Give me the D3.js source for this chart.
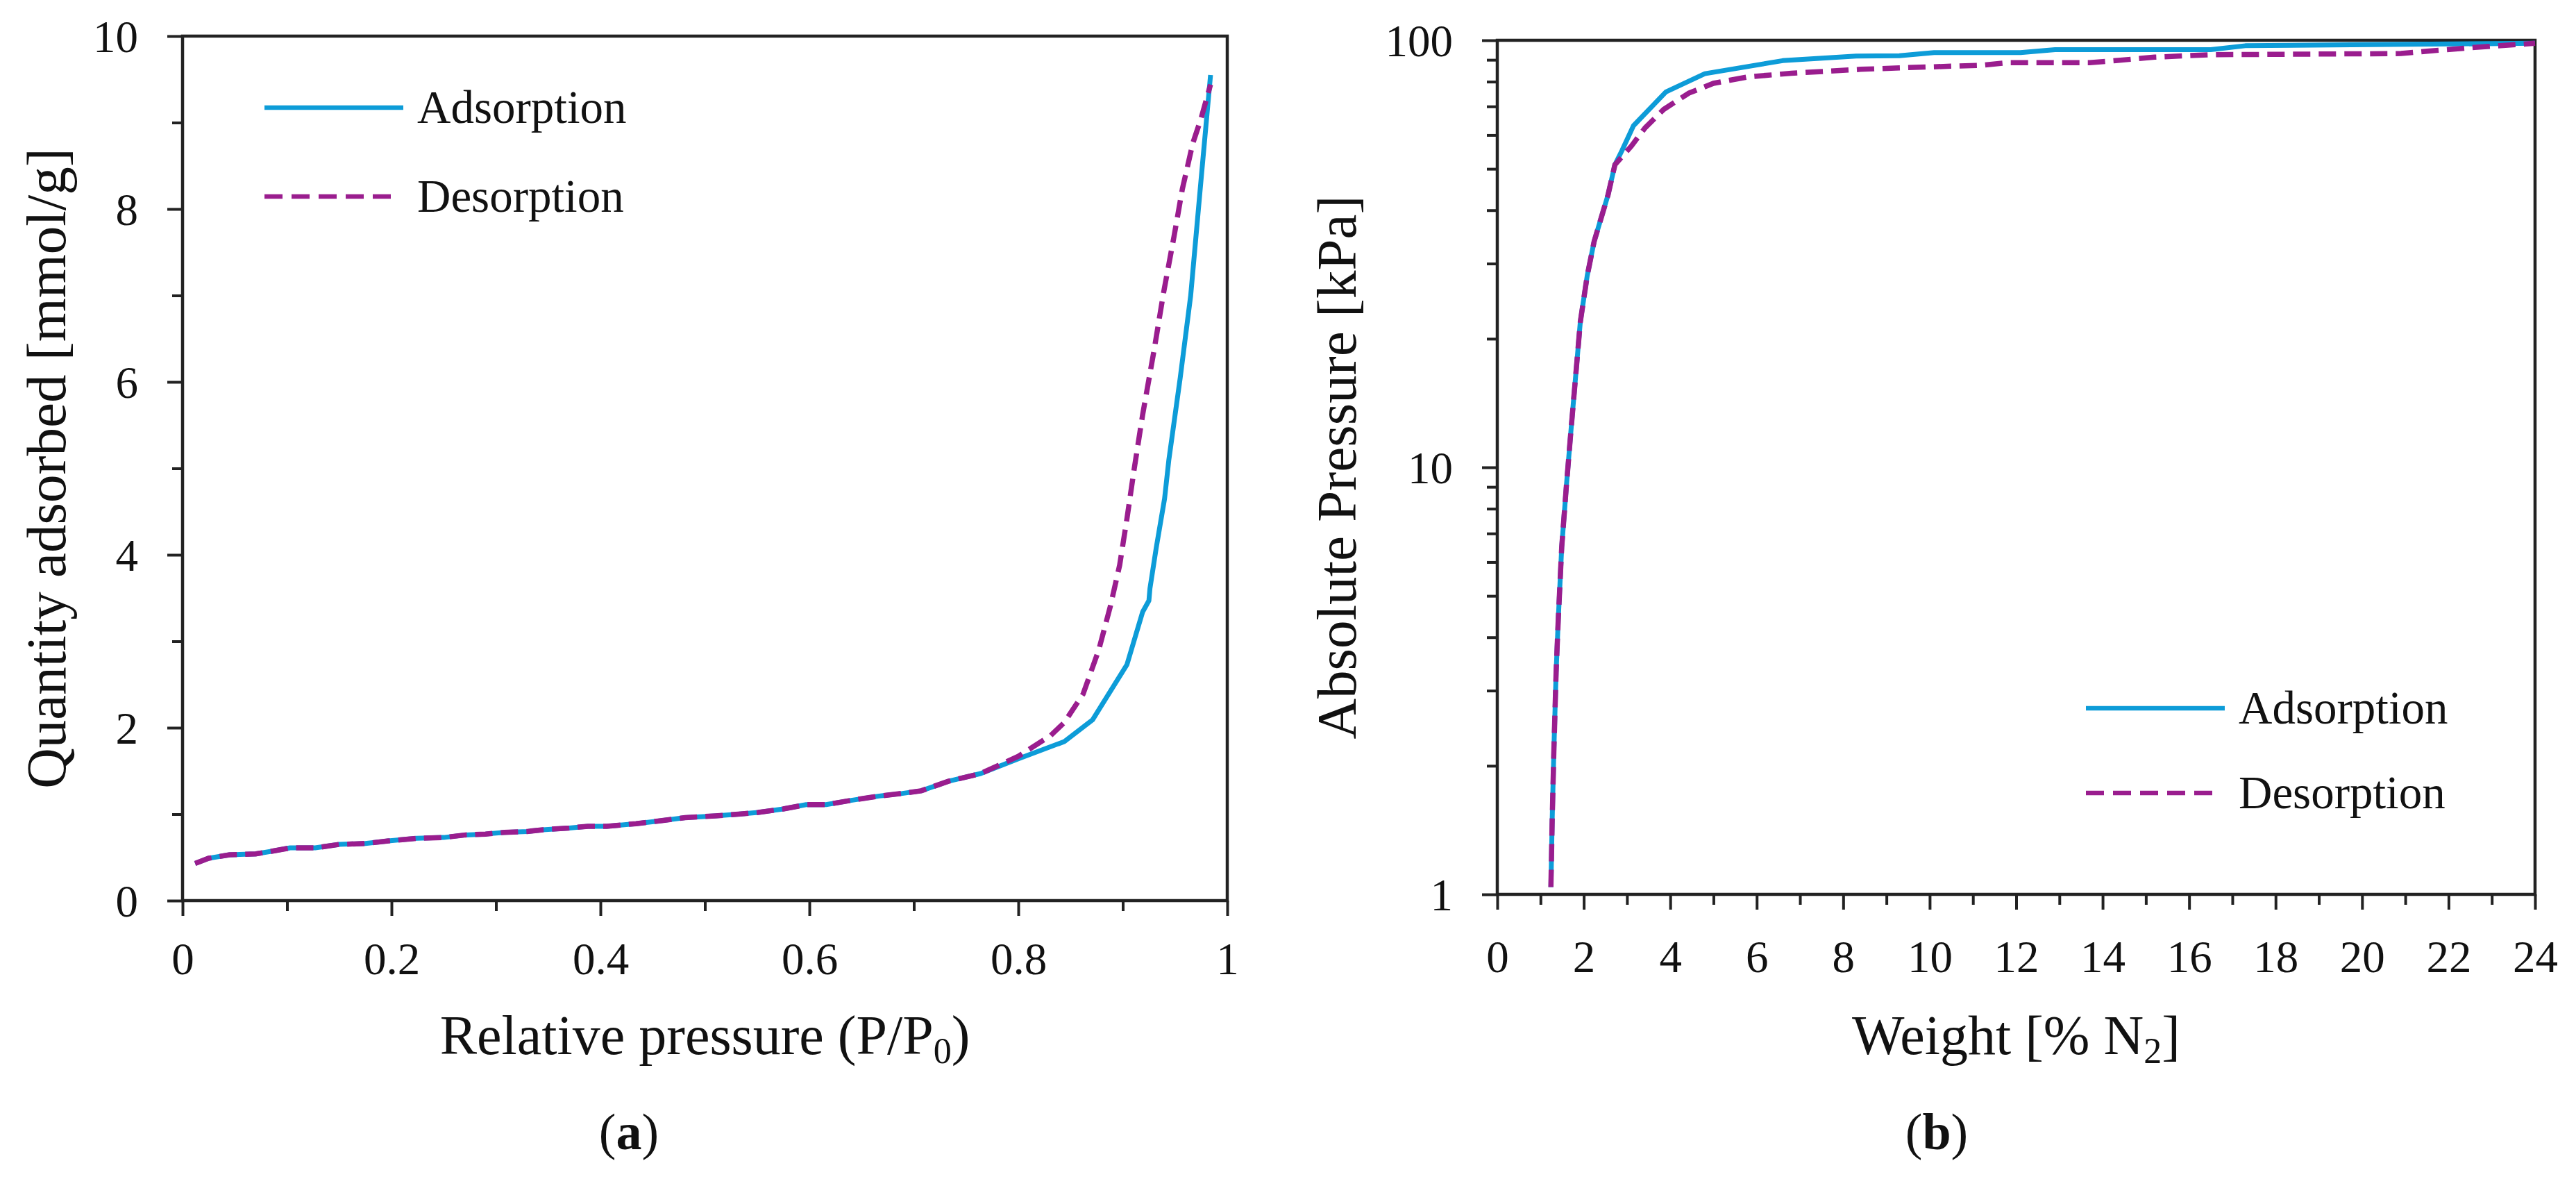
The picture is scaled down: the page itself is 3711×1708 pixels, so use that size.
<!DOCTYPE html>
<html>
<head>
<meta charset="utf-8">
<title>Adsorption / desorption isotherms</title>
<script src="https://d3js.org/d3.v7.min.js"></script>
<style>
    body { margin: 0; background: #fff; }
    svg text { font-family: "Liberation Serif", "DejaVu Serif", serif; fill: #111; }
    .tick line { stroke: #222; stroke-width: 4; }
</style>
</head>
<body>
<svg id="chart" width="3711" height="1708"></svg>
<script>
// ---- panel (a): N2 isotherm, relative pressure vs quantity adsorbed ----
var aAdsX = [0.012, 0.025, 0.045, 0.070, 0.085, 0.103, 0.127, 0.150, 0.175, 0.197, 0.224, 0.250, 0.271, 0.290,
             0.308, 0.330, 0.345, 0.370, 0.388, 0.406, 0.434, 0.455, 0.481, 0.510, 0.532, 0.551, 0.575, 0.597,
             0.616, 0.640, 0.667, 0.689, 0.707, 0.733, 0.764, 0.800, 0.844, 0.871, 0.904, 0.919, 0.925, 0.926,
             0.932, 0.940, 0.944, 0.955, 0.965, 0.975, 0.984];
var aAdsY = [0.43, 0.49, 0.53, 0.54, 0.57, 0.61, 0.61, 0.65, 0.66, 0.69, 0.72, 0.73, 0.76, 0.77,
             0.79, 0.80, 0.82, 0.84, 0.86, 0.86, 0.89, 0.92, 0.96, 0.98, 1.00, 1.02, 1.06, 1.11,
             1.11, 1.16, 1.21, 1.24, 1.27, 1.38, 1.47, 1.64, 1.84, 2.09, 2.73, 3.34, 3.47, 3.61,
             4.08, 4.65, 5.09, 6.05, 7.00, 8.35, 9.55];
var aDesX = [0.012, 0.025, 0.045, 0.070, 0.085, 0.103, 0.127, 0.150, 0.175, 0.197, 0.224, 0.250, 0.271, 0.290,
             0.308, 0.330, 0.345, 0.370, 0.388, 0.406, 0.434, 0.455, 0.481, 0.510, 0.532, 0.551, 0.575, 0.597,
             0.616, 0.640, 0.667, 0.689, 0.707, 0.733, 0.764, 0.800, 0.831, 0.844, 0.862, 0.877, 0.888, 0.897,
             0.904, 0.911, 0.919, 0.930, 0.939, 0.949, 0.957, 0.967, 0.975, 0.984];
var aDesY = [0.43, 0.49, 0.53, 0.54, 0.57, 0.61, 0.61, 0.65, 0.66, 0.69, 0.72, 0.73, 0.76, 0.77,
             0.79, 0.80, 0.82, 0.84, 0.86, 0.86, 0.89, 0.92, 0.96, 0.98, 1.00, 1.02, 1.06, 1.11,
             1.11, 1.16, 1.21, 1.24, 1.27, 1.38, 1.47, 1.67, 1.91, 2.06, 2.39, 2.90, 3.40, 3.88,
             4.42, 5.00, 5.62, 6.37, 7.03, 7.68, 8.23, 8.76, 9.05, 9.44];
var aXTicks = [0, 0.2, 0.4, 0.6, 0.8, 1];
var aXMinor = [0.1, 0.3, 0.5, 0.7, 0.9];
var aYTicks = [0, 2, 4, 6, 8, 10];
var aYMinor = [1, 3, 5, 7, 9];

// ---- panel (b): weight % N2 vs absolute pressure (log) ----
var bAdsX = [1.24, 1.27, 1.31, 1.36, 1.41, 1.49, 1.60, 1.71, 1.87, 1.92, 2.08, 2.24, 2.40, 2.56, 2.72, 2.88,
             3.15, 3.90, 4.80, 6.6, 8.3, 9.3, 10.1, 12.1, 12.9, 16.5, 17.3, 24.0];
var bAdsY = [1.04, 1.5, 2.2, 3.3, 4.4, 6.5, 9.1, 12.4, 19.1, 21.9, 28.1, 33.8, 38.3, 43.4, 51.1, 55.1,
             63.1, 75.7, 83.5, 89.6, 91.8, 92.0, 93.6, 93.6, 95.1, 95.1, 97.1, 98.4];
var bDesX = [1.24, 1.27, 1.31, 1.36, 1.41, 1.49, 1.60, 1.71, 1.87, 1.92, 2.08, 2.24, 2.40, 2.56, 2.72,
             3.10, 3.42, 3.85, 4.43, 5.0, 5.8, 6.8, 8.4, 9.5, 11.2, 11.8, 13.7, 14.3, 15.2, 16.5,
             20.9, 21.5, 22.6, 24.0];
var bDesY = [1.04, 1.5, 2.2, 3.3, 4.4, 6.5, 9.1, 12.4, 19.1, 21.9, 28.1, 33.8, 38.3, 43.4, 51.1,
             56.5, 62.4, 68.9, 75.2, 79.3, 82.1, 83.7, 85.5, 86.3, 87.4, 88.6, 88.6, 89.6, 91.3, 92.5,
             93.1, 94.3, 96.2, 98.4];
var bXTicks = [0, 2, 4, 6, 8, 10, 12, 14, 16, 18, 20, 22, 24];
var bXMinor = [1, 3, 5, 7, 9, 11, 13, 15, 17, 19, 21, 23];
var bYTicks = [1, 10, 100];
var bYMinor = [2, 3, 4, 5, 6, 7, 8, 9, 20, 30, 40, 50, 60, 70, 80, 90];

var seriesNames = ["Adsorption", "Desorption"];
var adsColor = "#0d9cd8";
var desColor = "#9a1d8e";

var svg = d3.select("#chart");

function zip(xs, ys) {
    return xs.map(function(d, i) { return [d, ys[i]]; });
}

function drawPanel(opt) {
    var x = opt.x, y = opt.y;
    var g = svg.append("g");
    var x0 = x.range()[0], x1 = x.range()[1];
    var y0 = y.range()[0], y1 = y.range()[1];

    // minor ticks
    g.append("g").attr("transform", "translate(0," + y0 + ")")
        .call(d3.axisBottom(x).tickValues(opt.xMinor).tickSize(15).tickFormat(""))
        .call(function(s) { s.select(".domain").remove(); });
    g.append("g").attr("transform", "translate(" + x0 + ",0)")
        .call(d3.axisLeft(y).tickValues(opt.yMinor).tickSize(15).tickFormat(""))
        .call(function(s) { s.select(".domain").remove(); });

    // major ticks + labels
    var xa = g.append("g").attr("transform", "translate(0," + y0 + ")")
        .call(d3.axisBottom(x).tickValues(opt.xTicks).tickSize(opt.xMajorLen).tickFormat(opt.xFormat));
    xa.select(".domain").remove();
    xa.selectAll("text").attr("y", opt.xLabelOffset).attr("dy", 0)
        .style("font-size", "65px");

    var ya = g.append("g").attr("transform", "translate(" + x0 + ",0)")
        .call(d3.axisLeft(y).tickValues(opt.yTicks).tickSize(22).tickFormat(opt.yFormat));
    ya.select(".domain").remove();
    ya.selectAll("text").attr("x", -64).attr("dy", "0.34em")
        .style("font-size", "65px");
    xa.attr("font-family", null).attr("font-size", null);
    ya.attr("font-family", null).attr("font-size", null);

    // frame
    g.append("rect")
        .attr("x", x0).attr("y", y1)
        .attr("width", x1 - x0).attr("height", y0 - y1)
        .attr("fill", "none").attr("stroke", "#222").attr("stroke-width", 4.5);

    var line = d3.line().x(function(d) { return x(d[0]); }).y(function(d) { return y(d[1]); });

    g.append("path").datum(zip(opt.adsX, opt.adsY))
        .attr("d", line).attr("fill", "none")
        .attr("stroke", adsColor).attr("stroke-width", 7).attr("stroke-linejoin", "round");
    g.append("path").datum(zip(opt.desX, opt.desY))
        .attr("d", line).attr("fill", "none")
        .attr("stroke", desColor).attr("stroke-width", 7.5).attr("stroke-dasharray", "25,12");

    // legend
    var lg = g.append("g");
    [0, 1].forEach(function(i) {
        var ly = opt.legendY[i];
        lg.append("line")
            .attr("x1", opt.legendX).attr("x2", opt.legendX + (i === 0 ? 200 : 184))
            .attr("y1", ly).attr("y2", ly)
            .attr("stroke", i === 0 ? adsColor : desColor)
            .attr("stroke-width", 6.5)
            .attr("stroke-dasharray", i === 0 ? null : "26,13");
        lg.append("text")
            .attr("x", opt.legendX + 220).attr("y", ly + 22)
            .style("font-size", "67px")
            .text(seriesNames[i]);
    });

    // y axis title
    svg.append("text")
        .attr("transform", "translate(" + opt.yTitleX + "," + ((y0 + y1) / 2) + ") rotate(-90)")
        .attr("text-anchor", "middle")
        .attr("dy", "0.35em")
        .style("font-size", "81px")
        .text(opt.yTitle);

    // x axis title with subscript
    var xt = svg.append("text")
        .attr("x", (x0 + x1) / 2).attr("y", 1518)
        .attr("text-anchor", "middle")
        .style("font-size", "80px");
    xt.append("tspan").text(opt.xTitle[0]);
    xt.append("tspan").attr("baseline-shift", "-25%").style("font-size", "52px").text(opt.xTitle[1]);
    xt.append("tspan").text(opt.xTitle[2]);

    // panel label
    var pl = svg.append("text")
        .attr("x", opt.labelX).attr("y", 1655)
        .attr("text-anchor", "middle")
        .style("font-size", "74px");
    pl.append("tspan").text("(");
    pl.append("tspan").attr("font-weight", "bold").text(opt.label);
    pl.append("tspan").text(")");
}

drawPanel({
    x: d3.scaleLinear().domain([0, 1]).range([263, 1768]),
    y: d3.scaleLinear().domain([0, 10]).range([1297, 52]),
    xTicks: aXTicks, xMinor: aXMinor, yTicks: aYTicks, yMinor: aYMinor,
    xFormat: d3.format("~g"), yFormat: d3.format("~g"),
    xMajorLen: 22, xLabelOffset: 106,
    adsX: aAdsX, adsY: aAdsY, desX: aDesX, desY: aDesY,
    legendX: 381, legendY: [155, 283],
    yTitle: "Quantity adsorbed [mmol/g]", yTitleX: 66,
    xTitle: ["Relative pressure (P/P", "0", ")"],
    label: "a", labelX: 906
});

drawPanel({
    x: d3.scaleLinear().domain([0, 24]).range([2157, 3652]),
    y: d3.scaleLog().domain([1, 100]).range([1288, 58]),
    xTicks: bXTicks, xMinor: bXMinor, yTicks: bYTicks, yMinor: bYMinor,
    xFormat: d3.format("d"), yFormat: d3.format("d"),
    xMajorLen: 22, xLabelOffset: 112,
    adsX: bAdsX, adsY: bAdsY, desX: bDesX, desY: bDesY,
    legendX: 3005, legendY: [1020, 1142],
    yTitle: "Absolute Pressure [kPa]", yTitleX: 1925,
    xTitle: ["Weight [% N", "2", "]"],
    label: "b", labelX: 2790
});
</script>
</body>
</html>
